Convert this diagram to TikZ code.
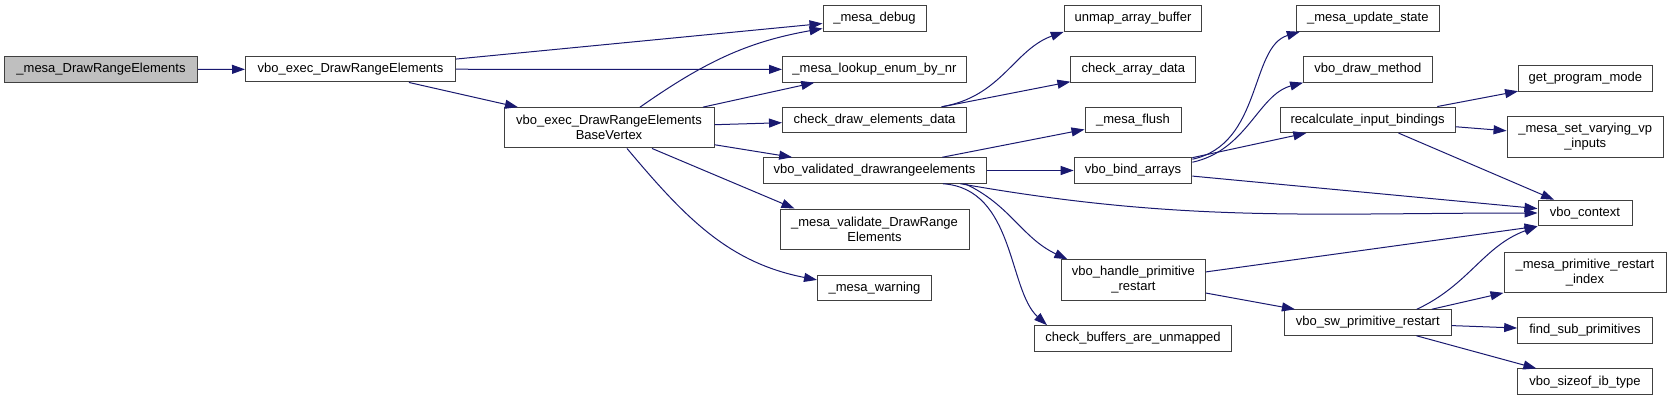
\documentclass[tikz,border=0pt]{standalone}
\usepackage{fontspec}
\setmainfont{Liberation Sans}
\usepackage{xcolor}
\usepackage{tikz}
\usetikzlibrary{arrows.meta}
\definecolor{edgeblue}{HTML}{191970}
\definecolor{boxgrey}{HTML}{404040}
\definecolor{rootgrey}{HTML}{BFBFBF}
\tikzstyle{fn} = [rectangle, draw=boxgrey, fill=white, line width=1pt, minimum height=25.5pt, inner sep=0pt, align=center, font=\fontsize{13}{15}\selectfont]
\tikzstyle{fntwo} = [fn, minimum height=40.3pt]
\tikzstyle{call} = [edgeblue, line width=1pt, -{Triangle[length=13pt,width=9pt]}]

\begin{document}
\begin{tikzpicture}[x=1pt,y=1pt]
\path[use as bounding box, fill=white] (0,0) rectangle (1672,-400);

\node[fn, fill=rootgrey, minimum width=193pt] (drawrange) at (101,-69.5) {\_mesa\_DrawRangeElements};
\node[fn, minimum width=210pt] (execdrawrange) at (350.5,-69.2) {vbo\_exec\_DrawRangeElements};
\node[fntwo, minimum width=210pt] (basevertex) at (609,-127.8) {vbo\_exec\_DrawRangeElements\\BaseVertex};

\node[fn, minimum width=103pt] (mesadebug) at (874.5,-18.5) {\_mesa\_debug};
\node[fn, minimum width=184pt] (lookupenum) at (874.5,-69.4) {\_mesa\_lookup\_enum\_by\_nr};
\node[fn, minimum width=184pt] (checkdrawdata) at (874.5,-120) {check\_draw\_elements\_data};
\node[fn, minimum width=223pt] (validateddraw) at (874.5,-170.5) {vbo\_validated\_drawrangeelements};
\node[fntwo, minimum width=189pt] (validaterange) at (874.5,-229.2) {\_mesa\_validate\_DrawRange\\Elements};
\node[fn, minimum width=114pt] (mesawarning) at (874.5,-287.9) {\_mesa\_warning};

\node[fn, minimum width=137.5pt] (unmapbuffer) at (1133,-18.5) {unmap\_array\_buffer};
\node[fn, minimum width=125pt] (checkarraydata) at (1133.4,-69.4) {check\_array\_data};
\node[fn, minimum width=96pt] (mesaflush) at (1133,-120) {\_mesa\_flush};
\node[fn, minimum width=117.6pt] (bindarrays) at (1133,-170.5) {vbo\_bind\_arrays};
\node[fntwo, minimum width=144pt] (handlerestart) at (1133.4,-279.9) {vbo\_handle\_primitive\\\_restart};
\node[fn, minimum width=197pt] (checkbuffers) at (1133,-338.4) {check\_buffers\_are\_unmapped};

\node[fn, minimum width=143pt] (updatestate) at (1367.8,-18.5) {\_mesa\_update\_state};
\node[fn, minimum width=128.4pt] (drawmethod) at (1367.8,-69.4) {vbo\_draw\_method};
\node[fn, minimum width=175pt] (recalcbindings) at (1367.6,-119.8) {recalculate\_input\_bindings};
\node[fn, minimum width=166.4pt] (swrestart) at (1367.8,-322.5) {vbo\_sw\_primitive\_restart};

\node[fn, minimum width=133.5pt] (programmode) at (1585.3,-78.4) {get\_program\_mode};
\node[fntwo, minimum width=156.3pt] (varyinginputs) at (1585.2,-137) {\_mesa\_set\_varying\_vp\\\_inputs};
\node[fn, minimum width=94pt] (vbocontext) at (1585,-213) {vbo\_context};
\node[fntwo, minimum width=162pt] (restartindex) at (1585,-272.2) {\_mesa\_primitive\_restart\\\_index};
\node[fn, minimum width=134.7pt] (findsubprims) at (1585,-330.5) {find\_sub\_primitives};
\node[fn, minimum width=134.7pt] (sizeofib) at (1585,-381.7) {vbo\_sizeof\_ib\_type};

% calls
\draw[call] (drawrange) -- (execdrawrange);
\draw[call] (execdrawrange) -- (mesadebug);
\draw[call] (execdrawrange) -- (lookupenum);
\draw[call] (execdrawrange) -- (basevertex);
\draw[call] ([xshift=31pt]basevertex.north) to[out=35,in=190] ([yshift=-10pt]mesadebug.west);
\draw[call] (basevertex) -- (lookupenum);
\draw[call] (basevertex) -- (checkdrawdata);
\draw[call] (basevertex) -- (validateddraw);
\draw[call] ([xshift=43pt]basevertex.south) -- ([xshift=-80pt]validaterange.north);
\draw[call] ([xshift=18pt]basevertex.south) to[out=-50,in=169] ([yshift=8pt]mesawarning.west);
\draw[call] ([xshift=67pt]checkdrawdata.north) .. controls +(60,10) and +(-50,-18) .. (unmapbuffer.south west);
\draw[call] (checkdrawdata) -- (checkarraydata);
\draw[call] (validateddraw) -- (mesaflush);
\draw[call] (validateddraw) -- (bindarrays);
\draw[call] ([xshift=86pt]validateddraw.south) to[out=-10,in=180] (vbocontext.west);
\draw[call] ([xshift=90.5pt]validateddraw.south) to[out=-25,in=155] ([xshift=-66pt]handlerestart.north);
\draw[call] ([xshift=68.5pt]validateddraw.south) .. controls +(72,-5) and +(-39,35) .. ([xshift=-86pt]checkbuffers.north);
\draw[call] ([yshift=-2pt]bindarrays.north east) .. controls +(70,15) and +(-50,-15) .. ([xshift=4pt]updatestate.south west);
\draw[call] ([yshift=-5pt]bindarrays.north east) .. controls +(55,12) and +(-45,-12) .. (drawmethod.south west);
\draw[call] (bindarrays) -- (recalcbindings);
\draw[call] (bindarrays) -- (vbocontext);
\draw[call] (recalcbindings) -- (programmode);
\draw[call] (recalcbindings) -- (varyinginputs);
\draw[call] (recalcbindings) -- (vbocontext);
\draw[call] ([yshift=8pt]handlerestart.east) -- (vbocontext.south west);
\draw[call] (handlerestart) -- (swrestart);
\draw[call] ([xshift=49pt]swrestart.north) to[out=25,in=200] (vbocontext.south west);
\draw[call] ([xshift=64pt]swrestart.north) -- (restartindex.south west);
\draw[call] (swrestart) -- (findsubprims);
\draw[call] (swrestart) -- (sizeofib);
\end{tikzpicture}
\end{document}
